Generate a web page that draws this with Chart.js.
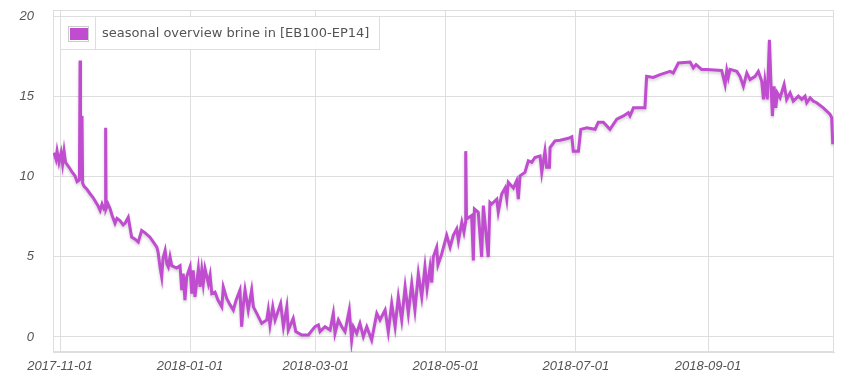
<!DOCTYPE html>
<html>
<head>
<meta charset="utf-8">
<title>seasonal overview brine in</title>
<script src="https://cdn.jsdelivr.net/npm/chart.js@4.4.1/dist/chart.umd.min.js"></script>
<style>
    html, body { margin: 0; padding: 0; background: #fff; }
    #chart { display: block; }
</style>
</head>
<body>
<canvas id="chart" width="850" height="375"></canvas>
<script>
// ═══════════ DATA ═══════════
// x = days since 2017-11-01, y = brine in temperature
const startDate = Date.UTC(2017, 10, 1);
const seriesLabel = 'seasonal overview brine in [EB100-EP14]';
const tickDates = ['2017-11-01', '2018-01-01', '2018-03-01', '2018-05-01', '2018-07-01', '2018-09-01'];
const yTicks = [0, 5, 10, 15, 20];

const dayOffsets = [
    -2.8, -1.9, -1.4, -0.5, 0.5, 1.2, 1.9, 2.6, 4.7, 5.6, 7.0, 8.0, 9.1, 9.4, 9.6, 10.3, 10.6, 11.3, 12.7, 14.1,
    15.5, 16.4, 17.8, 18.8, 19.7, 20.6, 21.3, 21.4, 21.6, 22.5, 23.5, 24.4, 25.8, 26.7, 28.1, 29.6, 30.5, 32.0, 33.6, 35.2,
    36.7, 38.3, 39.9, 42.2, 43.8, 45.4, 46.0, 46.9, 47.7, 48.3, 49.3, 50.1, 50.8, 51.6, 52.4, 54.7, 56.3, 57.1, 57.8, 58.6,
    59.4, 61.0, 61.8, 62.5, 63.3, 64.9, 65.7, 66.5, 67.2, 68.0, 69.6, 70.4, 71.2, 72.7, 74.1, 75.9, 76.6, 78.2, 79.8, 81.3,
    82.6, 84.4, 85.2, 86.0, 86.8, 88.3, 89.9, 90.7, 92.3, 94.6, 97.0, 97.7, 98.5, 99.8, 100.9, 103.5, 104.8, 106.4, 107.1, 109.4,
    110.6, 113.4, 116.5, 119.6, 121.2, 122.0, 124.3, 126.7, 128.2, 129.0, 130.6, 132.2, 133.7, 135.7, 136.8, 137.6, 139.2, 140.7, 142.3, 143.9,
    146.2, 148.6, 150.1, 152.5, 154.0, 155.6, 157.2, 158.7, 160.3, 161.9, 163.4, 165.0, 166.5, 168.1, 169.7, 171.2, 172.2, 173.6, 174.4, 175.1,
    176.7, 177.3, 179.1, 181.4, 183.0, 184.5, 186.1, 186.9, 188.5, 189.5, 190.3, 190.33, 190.7, 193.1, 193.9, 194.4, 196.2, 197.8, 198.6, 200.9,
    201.7, 202.5, 204.9, 205.6, 207.2, 208.8, 209.6, 210.3, 212.7, 214.2, 215.0, 215.8, 218.1, 219.7, 221.3, 222.8, 225.2, 226.0, 227.5, 228.3,
    229.6, 229.9, 232.2, 234.6, 238.5, 240.1, 240.8, 243.2, 244.3, 247.1, 251.0, 252.5, 254.9, 258.0, 261.2, 264.3, 266.6, 267.4, 269.0, 274.4,
    275.2, 278.3, 281.5, 286.2, 287.7, 290.1, 295.6, 297.1, 298.4, 301.0, 303.4, 310.4, 312.0, 312.8, 313.5, 314.3, 317.5, 319.0, 320.6, 322.2,
    323.7, 326.1, 327.6, 329.2, 330.0, 330.7, 331.8, 332.8, 333.6, 334.2, 335.0, 335.8, 336.5, 337.8, 339.7, 340.9, 342.5, 344.0, 346.4, 348.0,
    349.5, 350.3, 351.9, 353.4, 355.0, 358.1, 361.2, 362.0, 362.5
];

const brineTemps = [
    11.5, 11.1, 11.6, 10.9, 11.5, 10.8, 11.6, 10.9, 10.5, 10.3, 10.06, 9.7, 9.8, 17.25, 9.9, 13.8, 9.6, 9.4, 9.2, 8.94,
    8.7, 8.5, 8.2, 7.9, 8.3, 8.0, 8.1, 13.06, 8.0, 8.3, 8.0, 7.6, 7.1, 7.4, 7.27, 7.0, 7.1, 7.47, 6.23, 6.1,
    5.92, 6.65, 6.5, 6.23, 5.92, 5.6, 5.3, 4.37, 3.75, 4.9, 5.4, 4.57, 4.37, 5.0, 4.45, 4.3, 4.45, 2.92, 3.95, 2.3,
    3.75, 4.37, 2.71, 4.16, 2.5, 4.26, 3.12, 4.16, 3.33, 4.26, 3.33, 3.85, 2.71, 2.8, 2.3, 1.88, 3.12, 2.4, 2.0, 1.68,
    2.3, 2.92, 0.64, 2.0, 2.92, 1.68, 2.92, 1.88, 1.47, 0.85, 1.06, 1.68, 0.75, 1.88, 1.06, 2.09, 0.64, 1.88, 0.43, 1.16,
    0.33, 0.12, 0.12, 0.64, 0.75, 0.33, 0.64, 0.43, 1.47, 0.23, 1.06, 0.64, 0.33, 1.68, -0.19, 0.64, 0.23, 0.85, 0.02, 0.64,
    -0.19, 1.47, 1.06, 1.68, 0.33, 2.09, 0.64, 2.5, 1.06, 3.12, 1.47, 3.33, 1.68, 3.95, 2.5, 4.37, 3.0, 4.37, 3.4, 4.99,
    5.6, 4.5, 5.2, 6.34, 5.6, 6.34, 6.75, 6.0, 7.16, 6.55, 7.2, 11.6, 7.37, 7.58, 4.78, 7.99, 7.78, 4.99, 8.2, 4.99,
    8.4, 8.3, 8.6, 7.8, 8.92, 9.3, 8.6, 9.65, 9.3, 9.75, 8.6, 10.06, 10.27, 11.0, 10.9, 11.2, 11.3, 10.27, 11.6, 10.6,
    10.6, 11.82, 12.24, 12.28, 12.4, 12.5, 11.6, 11.6, 12.96, 13.06, 12.96, 13.4, 13.4, 12.96, 13.6, 13.8, 14.0, 13.8, 14.3, 14.3,
    16.27, 16.2, 16.38, 16.58, 16.48, 17.1, 17.16, 16.8, 17.0, 16.7, 16.7, 16.64, 15.76, 16.64, 16.2, 16.7, 16.58, 16.27, 15.65, 16.48,
    16.07, 16.27, 16.58, 15.96, 14.83, 15.96, 14.83, 18.55, 15.55, 13.79, 15.65, 14.3, 15.24, 14.93, 15.76, 14.83, 15.24, 14.72, 15.03, 14.83,
    15.03, 14.62, 14.93, 14.72, 14.62, 14.3, 13.9, 13.7, 12.03
];

// ═══════════ STYLE ═══════════
const lineColor = '#c04ccf';
const gridColor = '#dedede';
const tickColor = '#545454';

const toDay = s => {
    const [y, m, d] = s.split('-').map(Number);
    return (Date.UTC(y, m - 1, d) - startDate) / 864e5;
};
const dayLabel = v => new Date(startDate + v * 864e5).toISOString().slice(0, 10);

// frame round the plot area, under the line
const framePlugin = {
    id: 'frame',
    beforeDatasetsDraw(chart) {
        const { ctx, chartArea: a } = chart;
        ctx.save();
        ctx.strokeStyle = gridColor;
        ctx.lineWidth = 1;
        ctx.strokeRect(Math.round(a.left) + 0.5, Math.round(a.top) + 0.5, Math.round(a.right - a.left) - 1, Math.round(a.bottom - a.top) - 1);
        ctx.restore();
    }
};

// soft shadow under the line
const shadowPlugin = {
    id: 'lineShadow',
    beforeDatasetDraw(chart) {
        const ctx = chart.ctx;
        ctx.save();
        ctx.shadowColor = 'rgba(0,0,0,0.18)';
        ctx.shadowBlur = 3;
        ctx.shadowOffsetY = 2;
    },
    afterDatasetDraw(chart) {
        chart.ctx.restore();
    }
};

// legend box inside the plot, top left
const insideLegend = {
    id: 'insideLegend',
    afterDraw(chart) {
        const ctx = chart.ctx;
        ctx.save();
        ctx.fillStyle = 'rgba(255,255,255,0.9)';
        ctx.fillRect(60, 16, 320, 34);
        ctx.strokeStyle = gridColor;
        ctx.lineWidth = 1;
        ctx.strokeRect(60.5, 16.5, 319, 33);
        ctx.beginPath();
        ctx.moveTo(95.5, 16.5);
        ctx.lineTo(95.5, 49.5);
        ctx.stroke();
        // swatch
        ctx.strokeStyle = '#cccccc';
        ctx.strokeRect(68.5, 26.5, 20, 15);
        ctx.fillStyle = lineColor;
        ctx.fillRect(70, 28, 18, 12);
        // label
        ctx.fillStyle = tickColor;
        ctx.font = '13px "DejaVu Sans"';
        ctx.textBaseline = 'middle';
        ctx.fillText(chart.data.datasets[0].label, 102, 34);
        ctx.restore();
    }
};

new Chart(document.getElementById('chart'), {
    type: 'line',
    data: {
        datasets: [{
            label: seriesLabel,
            data: dayOffsets.map((d, i) => ({ x: d, y: brineTemps[i] })),
            borderColor: lineColor,
            backgroundColor: lineColor,
            borderWidth: 3,
            pointRadius: 0,
            tension: 0,
            fill: false
        }]
    },
    options: {
        responsive: false,
        animation: false,
        layout: { padding: { top: 10, right: 16, left: 0, bottom: 0 } },
        plugins: {
            legend: { display: false },
            tooltip: { enabled: false }
        },
        scales: {
            x: {
                type: 'linear',
                min: -3.3,
                max: 363.1,
                afterBuildTicks: scale => { scale.ticks = tickDates.map(s => ({ value: toDay(s) })); },
                afterFit: scale => { scale.height = 23; },
                grid: { color: gridColor, drawTicks: false },
                border: { color: gridColor },
                ticks: {
                    padding: 7,
                    maxRotation: 0,
                    color: tickColor,
                    font: { family: '"Liberation Sans", Arial, sans-serif', size: 13, style: 'italic' },
                    callback: v => dayLabel(v)
                }
            },
            y: {
                min: -0.94,
                max: 20.41,
                afterBuildTicks: scale => { scale.ticks = yTicks.map(v => ({ value: v })); },
                afterFit: scale => {
                    scale.width = 53;
                    // keep the tick padding from pushing the plot area in
                    scale.paddingTop = 0;
                    scale.paddingBottom = 0;
                },
                grid: { color: gridColor, drawTicks: false },
                border: { color: gridColor },
                ticks: {
                    padding: 19,
                    color: tickColor,
                    font: { family: '"Liberation Sans", Arial, sans-serif', size: 13, style: 'italic' }
                }
            }
        }
    },
    plugins: [framePlugin, shadowPlugin, insideLegend]
});
</script>
</body>
</html>
